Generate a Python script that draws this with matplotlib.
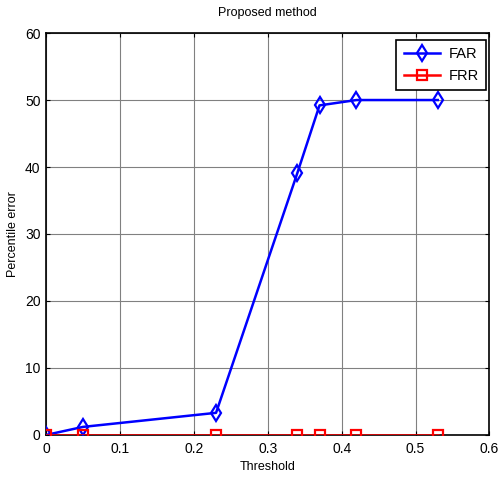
import matplotlib
matplotlib.use("Agg")
import matplotlib.pyplot as plt

# Data
threshold = [0, 0.05, 0.23, 0.34, 0.37, 0.42, 0.53]
far = [0, 1.2, 3.3, 39.1, 49.2, 50, 50]
frr = [0, 0, 0, 0, 0, 0, 0]

x_ticks = [0, 0.1, 0.2, 0.3, 0.4, 0.5, 0.6]
x_tick_labels = ["0", "0.1", "0.2", "0.3", "0.4", "0.5", "0.6"]
y_ticks = [0, 10, 20, 30, 40, 50, 60]

plt.rcParams['font.family'] = ['Liberation Sans', 'DejaVu Sans']

fig = plt.figure(figsize=(5.01, 4.79), dpi=100)
ax = fig.add_axes([0.092, 0.092, 0.885, 0.839])

ax.plot(threshold, far, color='#0000ff', lw=1.8, marker='d', markersize=8.5,
        markerfacecolor='none', markeredgewidth=1.6, label='FAR', zorder=3)
ax.plot(threshold, frr, color='#ff0000', lw=1.8, marker='s', markersize=7,
        markerfacecolor='none', markeredgewidth=1.6, label='FRR', zorder=3)

ax.set_xlim(0, 0.6)
ax.set_ylim(0, 60)
ax.set_xticks(x_ticks)
ax.set_xticklabels(x_tick_labels)
ax.set_yticks(y_ticks)
ax.tick_params(direction='in', labelsize=10, length=3, top=True, right=True)
ax.tick_params(axis='x', pad=5)
ax.tick_params(axis='y', pad=4)
ax.grid(True, color='#808080', lw=0.8)
ax.set_axisbelow(True)

ax.set_xlabel('Threshold', fontsize=9, labelpad=4)
ax.set_ylabel('Percentile error', fontsize=9, labelpad=4)
ax.set_title('Proposed method', fontsize=9, pad=12)

leg = ax.legend(loc='upper right', bbox_to_anchor=(1 - 3 / 443, 1 - 7 / 402),
                fontsize=10.5, fancybox=False, framealpha=1,
                edgecolor='black', handlelength=2.5, handletextpad=0.6,
                borderaxespad=0, borderpad=0.5, labelspacing=0.5)
leg.get_frame().set_linewidth(1.2)

for s in ax.spines.values():
    s.set_linewidth(1.2)

plt.savefig('out.png', dpi=100)
